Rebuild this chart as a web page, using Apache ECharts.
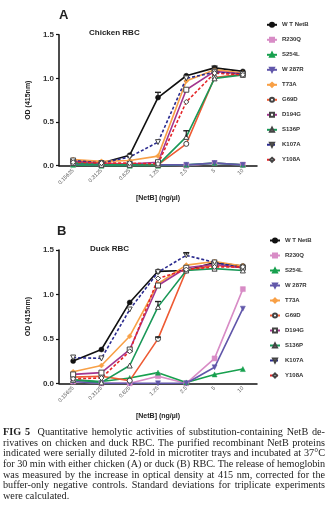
<!DOCTYPE html>
<html><head><meta charset="utf-8">
<script src="https://cdn.jsdelivr.net/npm/echarts@6/dist/echarts.min.js"></script>
<style>
html,body{margin:0;padding:0;background:#fff;}
#wrap{position:relative;width:334px;height:514px;overflow:hidden;}
#chart{position:absolute;left:0;top:0;width:334px;height:514px;}
#cap{position:absolute;left:3px;top:427px;width:322px;font-family:"Liberation Serif","DejaVu Serif",serif;font-size:10.2px;line-height:10.67px;color:#222;}
#cap div{white-space:nowrap;text-align:justify;text-align-last:justify;}
#cap div.last{text-align-last:left;}
</style></head>
<body><div id="wrap"><div id="chart"></div>
<div id="cap">
<div><span><b>FIG 5</b>&nbsp; Quantitative hemolytic activities of substitution-containing NetB de-</span></div>
<div><span>rivatives on chicken and duck RBC. The purified recombinant NetB proteins</span></div>
<div><span>indicated were serially diluted 2-fold in microtiter trays and incubated at 37°C</span></div>
<div><span>for 30 min with either chicken (A) or duck (B) RBC. The release of hemoglobin</span></div>
<div><span>was measured by the increase in optical density at 415 nm, corrected for the</span></div>
<div><span>buffer-only negative controls. Standard deviations for triplicate experiments</span></div>
<div class="last"><span>were calculated.</span></div>
</div></div>
<script>
// ---- data ----
const concentrations = ['0.15625','0.3125','0.625','1.25','2.5','5','10'];
const yTicks = [0, 0.5, 1.0, 1.5];
const seriesNames = ['W T NetB','R230Q','S254L','W 287R','T73A','G69D','D194G','S136P','K107A','Y108A'];

// Chicken RBC (A)
const chickenWT    = [0.05, 0.03, 0.12, 0.78, 1.03, 1.12, 1.08];
const chickenR230Q = [0.02, 0.01, 0.01, 0.01, 0.00, 0.03, 0.01];
const chickenS254L = [0.01, 0.00, 0.00, 0.00, 0.01, 0.03, 0.01];
const chickenW287R = [0.02, 0.01, 0.01, 0.01, 0.01, 0.03, 0.01];
const chickenT73A  = [0.07, 0.05, 0.06, 0.11, 0.97, 1.10, 1.06];
const chickenG69D  = [0.05, 0.03, 0.02, 0.01, 0.25, 1.01, 1.05];
const chickenD194G = [0.05, 0.02, 0.02, 0.04, 0.87, 1.08, 1.05];
const chickenS136P = [0.03, 0.01, 0.01, 0.01, 0.33, 1.00, 1.04];
const chickenK107A = [0.06, 0.03, 0.10, 0.27, 1.00, 1.07, 1.05];
const chickenY108A = [0.04, 0.03, 0.03, 0.02, 0.73, 1.06, 1.04];
// error bars (category index, mean, sd)
const chickenErr = [[3, 0.78, 0.06], [4, 0.33, 0.07], [5, 1.12, 0.02]];

// Duck RBC (B)
const duckWT    = [0.25, 0.38, 0.91, 1.26, 1.27, 1.36, 1.32];
const duckR230Q = [0.02, 0.00, 0.00, 0.08, 0.00, 0.28, 1.06];
const duckS254L = [0.04, 0.02, 0.06, 0.12, 0.01, 0.10, 0.16];
const duckW287R = [0.02, 0.00, 0.00, 0.00, 0.00, 0.18, 0.84];
const duckT73A  = [0.13, 0.20, 0.53, 1.12, 1.33, 1.37, 1.32];
const duckG69D  = [0.07, 0.08, 0.03, 0.50, 1.27, 1.33, 1.30];
const duckD194G = [0.10, 0.12, 0.38, 1.10, 1.30, 1.34, 1.30];
const duckS136P = [0.04, 0.01, 0.20, 0.86, 1.27, 1.29, 1.27];
const duckK107A = [0.29, 0.28, 0.83, 1.25, 1.44, 1.36, 1.30];
const duckY108A = [0.05, 0.06, 0.36, 1.18, 1.28, 1.31, 1.31];
const duckErr = [[3, 0.86, 0.06], [4, 1.44, 0.03], [3, 0.50, 0.02]];

const chickenData = [chickenWT, chickenR230Q, chickenS254L, chickenW287R, chickenT73A, chickenG69D, chickenD194G, chickenS136P, chickenK107A, chickenY108A];
const duckData = [duckWT, duckR230Q, duckS254L, duckW287R, duckT73A, duckG69D, duckD194G, duckS136P, duckK107A, duckY108A];

// ---- styles ----
const styles = [
  {color:'#111111', symbol:'circle',   rot:0,   open:false, dash:false},
  {color:'#d88cc6', symbol:'rect',     rot:0,   open:false, dash:false},
  {color:'#17a04e', symbol:'triangle', rot:0,   open:false, dash:false},
  {color:'#6157aa', symbol:'triangle', rot:180, open:false, dash:false},
  {color:'#f8a046', symbol:'diamond',  rot:0,   open:false, dash:false},
  {color:'#ee5a33', symbol:'circle',   rot:0,   open:true,  dash:false},
  {color:'#a3358f', symbol:'rect',     rot:0,   open:true,  dash:false},
  {color:'#1a9858', symbol:'triangle', rot:0,   open:true,  dash:false},
  {color:'#2a2a8e', symbol:'triangle', rot:180, open:true,  dash:true},
  {color:'#e52528', symbol:'diamond',  rot:0,   open:true,  dash:true}
];

function makeSeries(dataList, gi) {
  return dataList.map((d, i) => {
    const s = styles[i];
    return {
      name: seriesNames[i], type: 'line', xAxisIndex: gi, yAxisIndex: gi,
      data: d, symbol: s.symbol, symbolRotate: s.rot, symbolSize: 5,
      showAllSymbol: true,
      lineStyle: {color: s.color, width: 1.6, type: s.dash ? [3, 2] : 'solid'},
      itemStyle: s.open ? {color: '#ffffff', borderColor: '#444', borderWidth: 1} : {color: s.color, borderColor: s.color, borderWidth: 0.5},
      emphasis: {disabled: true}, z: 3
    };
  });
}
function errSeries(data, gi) {
  return {
    type: 'custom', xAxisIndex: gi, yAxisIndex: gi, data: data, z: 6,
    renderItem: function (params, api) {
      const x = api.value(0), y = api.value(1), e = api.value(2);
      const hi = api.coord([x, y + e]), lo = api.coord([x, y]);
      const w = 3;
      return {type: 'group', children: [
        {type: 'line', shape: {x1: hi[0], y1: hi[1], x2: lo[0], y2: lo[1]}, style: {stroke: '#222', lineWidth: 1.2}},
        {type: 'line', shape: {x1: hi[0] - w, y1: hi[1], x2: hi[0] + w, y2: hi[1]}, style: {stroke: '#222', lineWidth: 1.4}}
      ]};
    }
  };
}

const font = 'Liberation Sans, Arial, sans-serif';
function xAxisCfg(gi) {
  return {
    type: 'category', gridIndex: gi, data: concentrations, boundaryGap: true,
    name: '[NetB] (ng/\u00b5l)', nameLocation: 'middle', nameGap: 29,
    nameTextStyle: {fontFamily: font, fontSize: 7, fontWeight: 'bold', color: '#222'},
    axisLine: {lineStyle: {color: '#111', width: 1.5}},
    axisTick: {alignWithLabel: true, length: 3, lineStyle: {color: '#111', width: 1.2}},
    axisLabel: {rotate: 45, fontFamily: font, fontSize: 5.5, color: '#555', margin: 4, interval: 0}
  };
}
function yAxisCfg(gi) {
  return {
    type: 'value', gridIndex: gi, min: yTicks[0], max: yTicks[yTicks.length - 1], interval: 0.5,
    name: 'OD (415nm)', nameLocation: 'middle', nameGap: 27,
    nameTextStyle: {fontFamily: font, fontSize: 7, fontWeight: 'bold', color: '#222'},
    axisLine: {show: true, lineStyle: {color: '#111', width: 1.5}},
    axisTick: {show: true, length: 3, lineStyle: {color: '#111', width: 1.2}},
    splitLine: {show: false},
    axisLabel: {fontFamily: font, fontSize: 8, fontWeight: 'bold', color: '#333', margin: 5,
      formatter: v => v.toFixed(1)}
  };
}
function legendCfg(left, top) {
  return {
    orient: 'vertical', left: left, top: top, data: seriesNames, padding: 0,
    itemWidth: 10, itemHeight: 5, itemGap: 9,
    textStyle: {fontFamily: font, fontSize: 6, fontWeight: 'bold', color: '#333'},
    selectedMode: false
  };
}
function label(text, x, y, size) {
  return {type: 'text', x: x, y: y, style: {text: text, font: 'bold ' + size + 'px ' + font, fill: '#222', verticalAlign: 'middle', align: 'left'}};
}

const chart = echarts.init(document.getElementById('chart'), null, {renderer: 'canvas'});
chart.setOption({
  animation: false,
  backgroundColor: '#fff',
  grid: [
    {left: 59, right: 77, top: 34.7, height: 131},
    {left: 59, right: 77, top: 250, height: 133.3}
  ],
  xAxis: [xAxisCfg(0), xAxisCfg(1)],
  yAxis: [yAxisCfg(0), yAxisCfg(1)],
  legend: [legendCfg(266, 21.8), legendCfg(269, 237.5)],
  graphic: [
    label('A', 59, 15, 13), label('Chicken RBC', 89, 33, 8),
    label('B', 57, 231, 13), label('Duck RBC', 90, 248.5, 8)
  ],
  series: [].concat(makeSeries(chickenData, 0), [errSeries(chickenErr, 0)],
                    makeSeries(duckData, 1), [errSeries(duckErr, 1)])
});

// shrink letter spacing of any caption line that would overflow the column
document.querySelectorAll('#cap div').forEach(div => {
  const span = div.querySelector('span');
  const w = span.getBoundingClientRect().width;
  const W = 322;
  if (w > W) {
    const n = span.textContent.length;
    div.style.letterSpacing = (-(w - W + 1) / n) + 'px';
  }
});
</script></body></html>
